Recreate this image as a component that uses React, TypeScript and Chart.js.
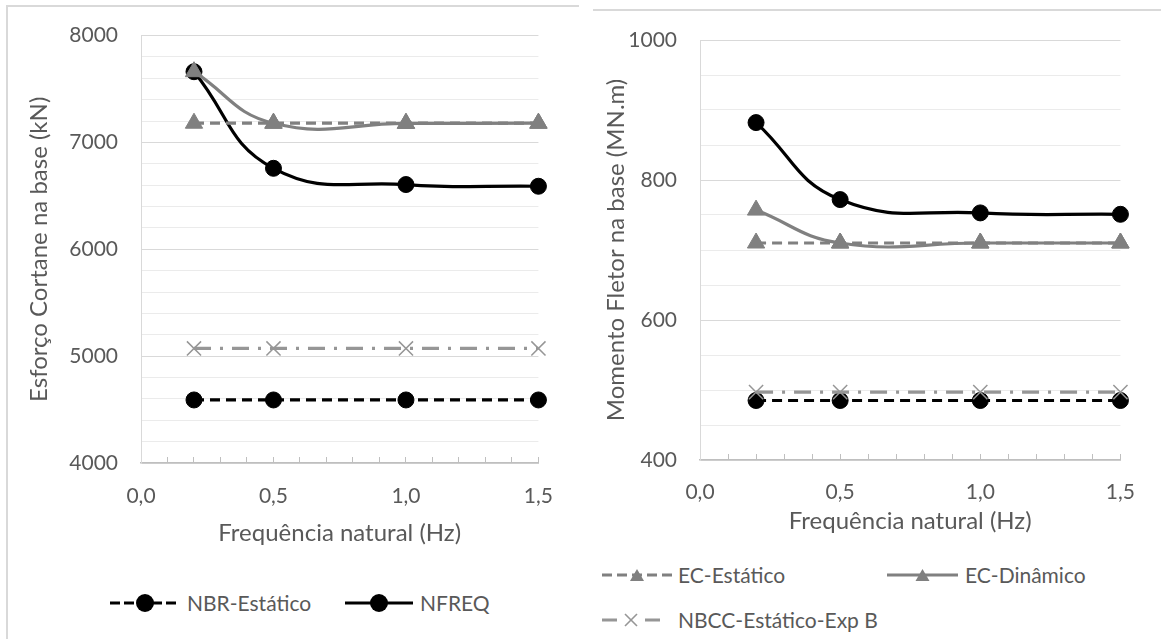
import React, { useEffect, useRef } from 'react';
import { Chart, registerables } from 'chart.js';

Chart.register(...registerables);

const FONT = 'Lato, "Open Sans", sans-serif';
const TEXT = '#595959';

// ---------- data ----------
const frequencies = [0.2, 0.5, 1.0, 1.5];
const xTickLabels = [0, 0.5, 1.0, 1.5];

const seriesNames = ['NBR-Estático', 'NFREQ', 'EC-Estático', 'EC-Dinâmico', 'NBCC-Estático-Exp B'];

// Esforço cortante na base (kN)
const shearNBR = [4590, 4590, 4590, 4590];
const shearNFREQ = [7662, 6758, 6606, 6590];
const shearECEstatico = [7180, 7180, 7180, 7180];
const shearECDinamico = [7662, 7180, 7178, 7180];
const shearNBCC = [5072, 5072, 5072, 5072];
const shearTickLabels = [4000, 5000, 6000, 7000, 8000];

// Momento fletor na base (MN.m)
const momentNBR = [485, 485, 485, 485];
const momentNFREQ = [882, 772, 753, 751];
const momentECEstatico = [710, 710, 710, 710];
const momentECDinamico = [757, 710, 710, 710];
const momentNBCC = [497, 497, 497, 497];
const momentTickLabels = [400, 600, 800, 1000];

// ---------- styles ----------
type SeriesStyle = {
  color: string;
  dash: number[];
  pointStyle: string;
  radius: number;
  pointBorderWidth: number;
  tension: number;
};

const seriesStyles: SeriesStyle[] = [
  { color: '#000000', dash: [10, 6], pointStyle: 'circle', radius: 8, pointBorderWidth: 1, tension: 0 },
  { color: '#000000', dash: [], pointStyle: 'circle', radius: 8, pointBorderWidth: 1, tension: 0.45 },
  { color: '#808080', dash: [10, 6], pointStyle: 'triangle', radius: 10, pointBorderWidth: 1, tension: 0 },
  { color: '#808080', dash: [], pointStyle: 'triangle', radius: 10, pointBorderWidth: 1, tension: 0.45 },
  { color: '#969696', dash: [17, 9, 3, 9], pointStyle: 'crossRot', radius: 10, pointBorderWidth: 1.5, tension: 0 },
];

function buildDatasets(values: number[][]) {
  return values.map((vals, i) => {
    const s = seriesStyles[i];
    return {
      label: seriesNames[i],
      data: frequencies.map((x, j) => ({ x, y: vals[j] })),
      borderColor: s.color,
      backgroundColor: s.color,
      borderWidth: 3.2,
      borderDash: s.dash,
      pointStyle: s.pointStyle,
      pointRadius: s.radius,
      pointBackgroundColor: s.color,
      pointBorderColor: s.color,
      pointBorderWidth: s.pointBorderWidth,
      tension: s.tension,
      cubicInterpolationMode: 'default',
      clip: false,
      order: values.length - i,
    };
  });
}

const fmtX = (v: number) => v.toFixed(1).replace('.', ',');

type PanelOpts = {
  values: number[][];
  yMin: number;
  yMax: number;
  yStep: number;
  yLabels: number[];
  yTitle: string;
  padTop: number;
  padRight: number;
  yWidth: number;
  xHeight: number;
  xTickPad: number;
  xTitlePadBottom: number;
  yTitlePadTop: number;
};

function makeConfig(o: PanelOpts): any {
  return {
    type: 'line',
    data: { datasets: buildDatasets(o.values) },
    options: {
      responsive: false,
      animation: false,
      events: [],
      layout: { padding: { top: o.padTop, right: o.padRight, left: 0, bottom: 0 } },
      plugins: { legend: { display: false }, tooltip: { enabled: false } },
      scales: {
        x: {
          type: 'linear',
          min: 0,
          max: 1.5,
          ticks: {
            stepSize: 0.1,
            autoSkip: false,
            maxRotation: 0,
            minRotation: 0,
            color: TEXT,
            font: { family: FONT, size: 21 },
            padding: o.xTickPad,
            callback: (v: number) => (xTickLabels.some((t) => Math.abs(t - v) < 1e-6) ? fmtX(v) : ''),
          },
          grid: { drawOnChartArea: false, drawTicks: true, tickLength: -6, color: '#bfbfbf', lineWidth: 1 },
          border: { display: true, color: '#bfbfbf', width: 1.5 },
          title: {
            display: true,
            text: 'Frequência natural (Hz)',
            color: TEXT,
            font: { family: FONT, size: 24 },
            padding: { top: 0, bottom: o.xTitlePadBottom },
          },
          afterFit: (s: any) => {
            s.height = o.xHeight;
          },
        },
        y: {
          min: o.yMin,
          max: o.yMax,
          ticks: {
            stepSize: o.yStep,
            autoSkip: false,
            color: TEXT,
            font: { family: FONT, size: 21 },
            padding: 23,
            callback: (v: number) => (o.yLabels.includes(v) ? String(v) : ''),
          },
          grid: {
            drawTicks: false,
            lineWidth: 1,
            color: (ctx: any) => (ctx.tick && o.yLabels.includes(ctx.tick.value) ? '#d9d9d9' : '#ebebeb'),
          },
          border: { display: true, color: '#d9d9d9', width: 1 },
          title: {
            display: true,
            text: o.yTitle,
            color: TEXT,
            font: { family: FONT, size: 24 },
            padding: { top: o.yTitlePadTop, bottom: 0 },
          },
          afterFit: (s: any) => {
            s.width = o.yWidth;
          },
        },
      },
    },
  };
}

function ChartCanvas({ config, left, top, width, height }: any) {
  const ref = useRef<HTMLCanvasElement>(null);
  useEffect(() => {
    const chart = new Chart(ref.current as HTMLCanvasElement, config);
    return () => chart.destroy();
  }, []);
  return (
    <canvas
      ref={ref}
      width={width}
      height={height}
      style={{ position: 'absolute', left, top, width, height }}
    />
  );
}

// ---------- legend ----------
function Marker({ kind, color, cx }: { kind: string; color: string; cx: number }) {
  if (kind === 'circle') return <circle cx={cx} cy={10} r={9} fill={color} />;
  if (kind === 'triangle')
    return <polygon points={`${cx - 7},${16} ${cx + 7},${16} ${cx},${4}`} fill={color} />;
  return (
    <g stroke={color} strokeWidth={1.6}>
      <line x1={cx - 6} y1={4} x2={cx + 6} y2={16} />
      <line x1={cx - 6} y1={16} x2={cx + 6} y2={4} />
    </g>
  );
}

function LegendItem({ idx, x, y, sampleW, textX, dash }: any) {
  const s = seriesStyles[idx];
  return (
    <>
      <svg
        width={sampleW}
        height={20}
        style={{ position: 'absolute', left: x, top: y - 10, overflow: 'visible' }}
      >
        <line x1={0} y1={10} x2={sampleW} y2={10} stroke={s.color} strokeWidth={3} strokeDasharray={dash} />
        <Marker kind={s.pointStyle} color={s.color} cx={sampleW / 2} />
      </svg>
      <div
        style={{
          position: 'absolute',
          left: textX,
          top: y - 14,
          height: 28,
          lineHeight: '28px',
          fontFamily: FONT,
          fontSize: 21,
          color: TEXT,
          whiteSpace: 'nowrap',
        }}
      >
        {seriesNames[idx]}
      </div>
    </>
  );
}

export default function App() {
  const leftConfig = makeConfig({
    values: [shearNBR, shearNFREQ, shearECEstatico, shearECDinamico, shearNBCC],
    yMin: 4000,
    yMax: 8000,
    yStep: 200,
    yLabels: shearTickLabels,
    yTitle: 'Esforço Cortane na base (kN)',
    padTop: 35,
    padRight: 30,
    yWidth: 141,
    xHeight: 97,
    xTickPad: 27,
    xTitlePadBottom: 12.6,
    yTitlePadTop: 25,
  });
  const rightConfig = makeConfig({
    values: [momentNBR, momentNFREQ, momentECEstatico, momentECDinamico, momentNBCC],
    yMin: 400,
    yMax: 1000,
    yStep: 50,
    yLabels: momentTickLabels,
    yTitle: 'Momento Fletor na base (MN.m)',
    padTop: 40,
    padRight: 33,
    yWidth: 120,
    xHeight: 100,
    xTickPad: 26,
    xTitlePadBottom: 24.6,
    yTitlePadTop: 21.6,
  });

  return (
    <div
      style={{
        position: 'fixed',
        left: 0,
        top: 0,
        width: 1161,
        height: 639,
        background: '#ffffff',
        overflow: 'hidden',
      }}
    >
      <div
        style={{
          position: 'absolute',
          left: 6,
          top: 5,
          width: 571,
          height: 660,
          borderLeft: '2px solid #d9d9d9',
          borderTop: '2px solid #d9d9d9',
        }}
      />
      <div
        style={{
          position: 'absolute',
          left: 593,
          top: 9,
          width: 580,
          height: 0,
          borderTop: '2px solid #d9d9d9',
        }}
      />
      <ChartCanvas config={leftConfig} left={0} top={0} width={580} height={560} />
      <ChartCanvas config={rightConfig} left={580} top={0} width={581} height={560} />

      <LegendItem idx={0} x={110} y={603} sampleW={70} textX={187} dash="10 4" />
      <LegendItem idx={1} x={345} y={603} sampleW={68} textX={420} dash="" />

      <LegendItem idx={2} x={602} y={575} sampleW={70} textX={678} dash="10 5" />
      <LegendItem idx={3} x={887} y={575} sampleW={71} textX={965} dash="" />
      <LegendItem idx={4} x={602} y={620} sampleW={58} textX={678} dash="15 28 15" />
    </div>
  );
}
